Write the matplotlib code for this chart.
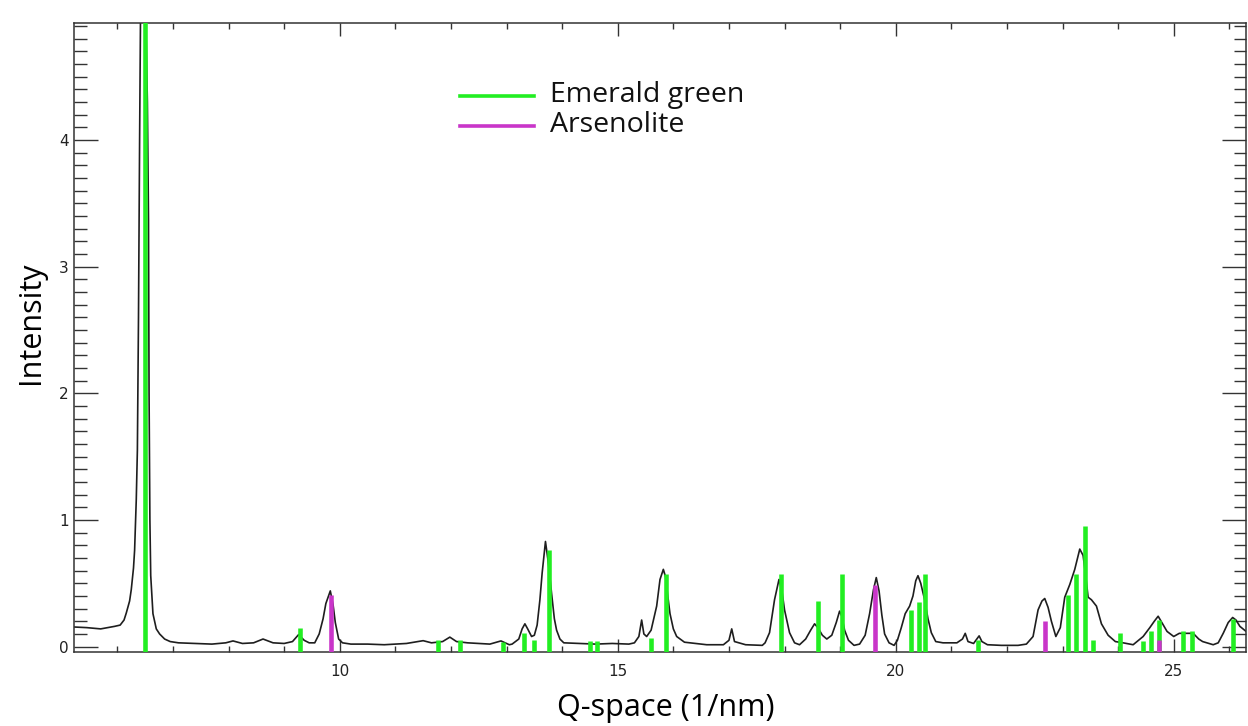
import matplotlib
matplotlib.use('Agg')
import matplotlib.pyplot as plt
from matplotlib.ticker import MultipleLocator

# measured diffraction curve (Q in 1/nm, intensity)
q = [5.22, 5.45, 5.70, 5.95, 6.05, 6.12, 6.16, 6.22, 6.25, 6.29, 6.31, 6.34,
     6.36, 6.38, 6.40, 6.42, 6.47, 6.54, 6.56, 6.57, 6.585, 6.60, 6.64, 6.70,
     6.76, 6.85, 6.95,
     7.10, 7.40, 7.70, 7.95, 8.08, 8.25, 8.45, 8.62, 8.80, 9.00, 9.15, 9.26,
     9.36, 9.45, 9.55, 9.63, 9.70, 9.75, 9.83, 9.88, 9.92, 9.98, 10.05,
     10.20, 10.50, 10.80, 11.00, 11.20, 11.40, 11.50, 11.65, 11.85, 11.98,
     12.10, 12.30, 12.50, 12.70, 12.90, 13.05,
     13.10, 13.22, 13.28, 13.33, 13.38, 13.45, 13.50, 13.55, 13.60, 13.64,
     13.70, 13.74, 13.78, 13.81, 13.86, 13.90, 13.96, 14.03,
     14.30, 14.60, 14.90, 15.20, 15.30, 15.38, 15.43, 15.47, 15.52, 15.60,
     15.70, 15.76, 15.82, 15.86, 15.90, 15.94, 16.00, 16.06, 16.20,
     16.60, 16.90, 17.00, 17.05, 17.10, 17.30, 17.60,
     17.65, 17.73, 17.82, 17.90, 17.95, 18.00, 18.09, 18.18, 18.27, 18.38,
     18.47, 18.54, 18.60, 18.68, 18.76, 18.85, 18.93, 18.99, 19.03, 19.08,
     19.15, 19.25, 19.35, 19.45, 19.53, 19.60, 19.65, 19.70, 19.75, 19.80,
     19.88, 19.97,
     20.03, 20.10, 20.17, 20.25, 20.31, 20.36, 20.40, 20.45, 20.52, 20.58,
     20.64, 20.72, 20.85, 21.10, 21.20, 21.25, 21.30, 21.40, 21.50, 21.55,
     21.65, 21.90, 22.20, 22.35, 22.47, 22.56, 22.63, 22.68, 22.74, 22.80,
     22.88, 22.96, 23.04, 23.13, 23.22, 23.31, 23.37, 23.42, 23.46, 23.52,
     23.61, 23.70, 23.82, 23.95, 24.09, 24.27, 24.45, 24.57, 24.65, 24.72,
     24.80, 24.88, 25.00, 25.10, 25.22, 25.35, 25.45, 25.52, 25.71, 25.80,
     25.89, 25.98, 26.06, 26.12, 26.19, 26.33]
intensity = [0.155, 0.15, 0.14, 0.16, 0.17, 0.21, 0.265, 0.36, 0.45, 0.62, 0.76, 1.16,
             1.55, 2.6, 4.0, 5.2, 5.9, 4.3, 3.37, 2.0, 1.0, 0.56, 0.26, 0.14,
             0.10, 0.06, 0.04,
             0.03, 0.025, 0.02, 0.03, 0.045, 0.025, 0.03, 0.06, 0.03, 0.025, 0.04, 0.095,
             0.05, 0.03, 0.03, 0.10, 0.22, 0.34, 0.44, 0.33, 0.19, 0.06, 0.03,
             0.02, 0.02, 0.015, 0.02, 0.025, 0.04, 0.047, 0.03, 0.04, 0.075,
             0.04, 0.03, 0.025, 0.02, 0.045, 0.015,
             0.02, 0.06, 0.14, 0.18, 0.14, 0.08, 0.09, 0.17, 0.37, 0.58,
             0.83, 0.70, 0.55, 0.42, 0.22, 0.13, 0.06, 0.03,
             0.025, 0.02, 0.025, 0.02, 0.03, 0.08, 0.21, 0.10, 0.08, 0.13,
             0.32, 0.53, 0.61, 0.55, 0.40, 0.26, 0.14, 0.08, 0.035,
             0.015, 0.015, 0.05, 0.14, 0.04, 0.015, 0.01,
             0.03, 0.11, 0.37, 0.53, 0.45, 0.29, 0.11, 0.03, 0.015, 0.06,
             0.13, 0.18, 0.15, 0.09, 0.06, 0.09, 0.19, 0.28, 0.24, 0.13,
             0.05, 0.01, 0.02, 0.09, 0.26, 0.45, 0.545, 0.44, 0.25, 0.10,
             0.03, 0.01,
             0.05, 0.15, 0.26, 0.32, 0.40, 0.52, 0.56, 0.50, 0.37, 0.22,
             0.11, 0.04, 0.03, 0.03, 0.06, 0.105, 0.04, 0.025, 0.085, 0.04,
             0.015, 0.01, 0.01, 0.02, 0.08, 0.29, 0.36, 0.38, 0.31, 0.20,
             0.08, 0.15, 0.39, 0.49, 0.61, 0.77, 0.72, 0.55, 0.39, 0.37,
             0.32, 0.18, 0.09, 0.04, 0.03, 0.015, 0.08, 0.15, 0.20, 0.24,
             0.18, 0.12, 0.08, 0.105, 0.105, 0.105, 0.06, 0.04, 0.015, 0.03,
             0.105, 0.19, 0.23, 0.21, 0.16, 0.11]

# reference stick patterns
emerald_q = [6.49, 9.28, 11.77, 12.17, 12.94, 13.32, 13.49, 13.76, 14.50, 14.62,
             15.59, 15.86, 17.93, 18.60, 19.04, 20.28, 20.42, 20.52, 21.48, 23.10,
             23.25, 23.40, 23.55, 24.04, 24.45, 24.59, 24.73, 25.17, 25.32, 26.07]
emerald_h = [5.5, 0.15, 0.05, 0.05, 0.04, 0.11, 0.05, 0.76, 0.045, 0.045,
             0.07, 0.57, 0.57, 0.36, 0.57, 0.29, 0.355, 0.57, 0.05, 0.41,
             0.57, 0.955, 0.053, 0.11, 0.045, 0.124, 0.21, 0.12, 0.12, 0.215]
arsenolite_q = [9.84, 19.62, 22.69, 24.73]
arsenolite_h = [0.41, 0.49, 0.205, 0.053]

xlim = (5.22, 26.30)
ylim = (-0.04, 4.925)
green = '#22ee22'
magenta = '#c935c9'
tick_col = '#333333'

fig = plt.figure(figsize=(12.48, 7.26), dpi=100)
W, H = 1248, 726
ax = fig.add_axes([74 / W, 1 - 651.7 / H, (1246 - 74) / W, (651.7 - 22.7) / H])

ax.plot(q, intensity, color='#1e1e1e', lw=1.2, zorder=2)
ax.vlines(emerald_q, ylim[0], emerald_h, colors=green, lw=3.3, zorder=3)
ax.vlines(arsenolite_q, ylim[0], arsenolite_h, colors=magenta, lw=3.3, zorder=4)

ax.set_xlim(*xlim)
ax.set_ylim(*ylim)
ax.xaxis.set_major_locator(MultipleLocator(5))
ax.xaxis.set_minor_locator(MultipleLocator(1))
ax.yaxis.set_major_locator(MultipleLocator(1))
ax.yaxis.set_minor_locator(MultipleLocator(0.1))

ax.tick_params(which='both', direction='in', top=True, right=True,
               color=tick_col, width=1.0, labelcolor='#222222', labelsize=11)
ax.tick_params(axis='x', which='major', length=9.5, pad=9)
ax.tick_params(axis='x', which='minor', length=4.2)
ax.tick_params(axis='y', which='major', length=17, pad=4)
ax.tick_params(axis='y', which='minor', length=9)
for s in ax.spines.values():
    s.set_color(tick_col)
    s.set_linewidth(1.1)

lab_font = dict(family='Open Sans', size=22)
ax.set_xlabel('Q-space (1/nm)', va='center', **lab_font)
ax.xaxis.set_label_coords(0.505, -(708 - 651.7) / 629)
ax.set_ylabel('Intensity', va='center', **lab_font)
ax.yaxis.set_label_coords((31 - 74) / 1172, (651.7 - 323) / 629)

# legend drawn by hand to match the tight spacing
for label, col, ly, ty in [('Emerald green', green, 96, 101.7),
                           ('Arsenolite', magenta, 126, 131.7)]:
    fig.add_artist(plt.Line2D([460 / W, 534 / W], [1 - ly / H, 1 - ly / H],
                              color=col, lw=2.6))
    fig.text(550 / W, 1 - ty / H, label, family='Open Sans', size=20.5,
             va='baseline', ha='left', color='#111111')

fig.savefig('out.png', dpi=100)
